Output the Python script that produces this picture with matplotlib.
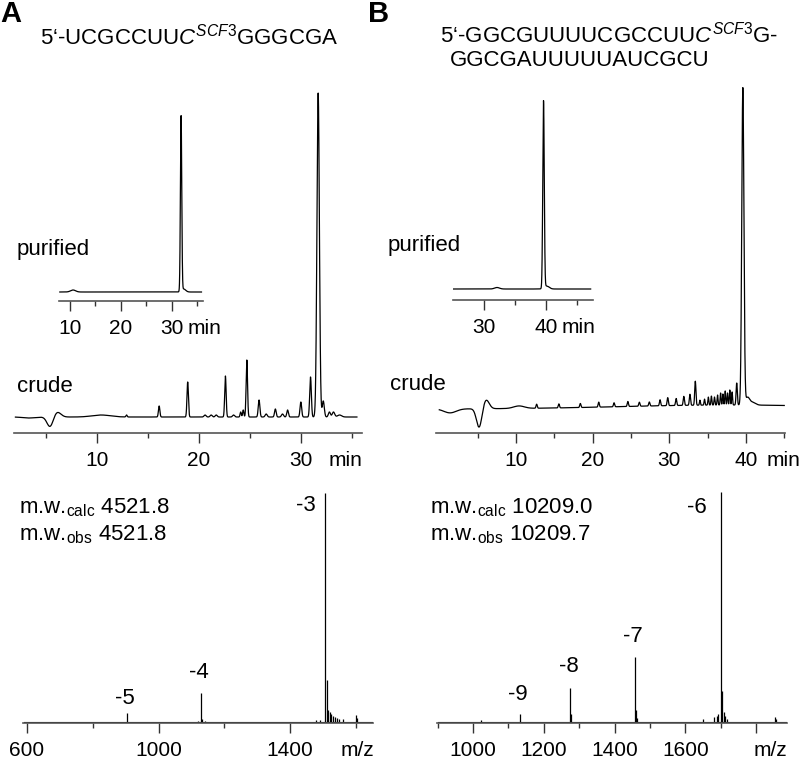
import numpy as np
import matplotlib
matplotlib.use("Agg")
import matplotlib.pyplot as plt
from matplotlib.ticker import FixedLocator

plt.rcParams["font.family"] = ["Liberation Sans", "DejaVu Sans"]
plt.rcParams["mathtext.fontset"] = "custom"
plt.rcParams["mathtext.rm"] = "Liberation Sans"
plt.rcParams["mathtext.it"] = "Liberation Sans:italic"
plt.rcParams["mathtext.bf"] = "Liberation Sans:bold"

W, H = 800, 760
FS = 16      # labels, sequences
TFS = 15     # tick labels

# ---- panel A, HPLC crude: retention time (min), height (a.u.), sigma (min)
a_crude_t = [3.3, 5.4, 6.1, 10.4, 12.9, 16.1, 18.9, 20.6, 21.2, 21.7, 22.6, 23.4,
             24.1, 24.35, 24.7, 25.9, 26.6, 27.5, 28.2, 28.7, 30.0, 30.95, 31.7,
             32.2, 32.8, 33.2, 33.8]
a_crude_h = [-1, -10, 5, 2, 2, 11, 35, 2, 2, 2, 41, 2,
             5, 7, 57, 17, 3, 8, 3, 7, 15, 40, 324,
             16, 5, 5, 2]
a_crude_w = [0.6, 0.3, 0.35, 0.9, 0.06, 0.07, 0.07, 0.1, 0.1, 0.1, 0.07, 0.1,
             0.06, 0.06, 0.07, 0.08, 0.1, 0.08, 0.1, 0.08, 0.08, 0.08, 0.12,
             0.1, 0.1, 0.12, 0.2]

# ---- panel A, HPLC purified
a_pur_t = [10.6, 31.8, 32.3]
a_pur_h = [2, 175, 3]
a_pur_w = [0.5, 0.13, 0.4]

# ---- panel B, HPLC crude (last entry: slow baseline drift)
b_crude_t = [1.4, 5.2, 6.1, 10.4, 12.7, 15.6, 18.4, 20.8, 22.8, 24.6, 26.1, 27.4,
             28.8, 29.8, 30.9, 31.9, 32.7, 33.4, 34.0, 34.6, 35.1, 35.5, 35.9,
             36.3, 36.7, 37.0, 37.3, 37.6, 37.9, 38.2, 38.8, 39.6, 40.2, 40.8, 38.0]
b_crude_h = [-4, -19, 9, 2.5, 4, 4, 4, 5, 4, 5, 4, 4,
             6, 8, 7, 9, 11, 24, 5, 6, 8, 9, 8,
             10, 12, 11, 14, 12, 15, 13, 22, 317, 7, 3, 4]
b_crude_w = [0.8, 0.35, 0.4, 0.7, 0.08, 0.08, 0.08, 0.08, 0.08, 0.08, 0.08, 0.08,
             0.08, 0.08, 0.08, 0.08, 0.08, 0.08, 0.06, 0.06, 0.06, 0.06, 0.06,
             0.06, 0.06, 0.06, 0.06, 0.06, 0.06, 0.06, 0.08, 0.14, 0.25, 0.4, 14]

# ---- panel B, HPLC purified
b_pur_t = [32.1, 39.6, 40.1]
b_pur_h = [1.5, 187, 3]
b_pur_w = [0.4, 0.12, 0.4]

# ---- ESI-MS stick spectra: m/z, intensity (a.u.)
a_ms_mz = [903.4, 1120, 1129.5, 1131.5, 1140, 1480, 1492, 1506.3, 1513.5, 1517,
           1521, 1526, 1531, 1536, 1542, 1550, 1560, 1600, 1604]
a_ms_int = [9, 1.5, 29, 3, 1.5, 2, 2, 229, 42, 12,
            10, 8, 6, 5, 4, 3, 3, 7, 4]
a_charge = ["-5", "-4", "-3"]
a_charge_mz = [903.4, 1129.5, 1506.3]
a_charge_int = [9, 29, 229]

b_ms_mz = [1022, 1133.4, 1275.1, 1278, 1457.4, 1460.5, 1464, 1650, 1680, 1688,
           1693, 1700.5, 1704, 1708, 1712, 1718, 1853, 1857]
b_ms_int = [2, 8, 34, 8, 65, 12, 4, 3, 5, 6,
            8, 230, 31, 10, 6, 3, 5, 3]
b_charge = ["-9", "-8", "-7", "-6"]
b_charge_mz = [1133.4, 1275.1, 1457.4, 1700.5]
b_charge_int = [8, 34, 65, 230]

mw_a = ("4521.8", "4521.8")
mw_b = ("10209.0", "10209.7")

seq_a = r"5‘-UCGCCUU$\mathit{C}^{\mathit{SCF3}}$GGGCGA"
seq_b1 = r"5‘-GGCGUUUUCGCCUU$\mathit{C}^{\mathit{SCF3}}$G-"
seq_b2 = "GGCGAUUUUUAUCGCU"

fig = plt.figure(figsize=(W / 100, H / 100), dpi=100)


def trace(t, centers, heights, widths):
    y = np.zeros_like(t)
    for c, h, w in zip(centers, heights, widths):
        y += h * np.exp(-0.5 * ((t - c) / w) ** 2)
    return y


def px_axes(left, right, axis_y, top_y, gap, xlim):
    ax = fig.add_axes([left / W, (H - axis_y) / H, (right - left) / W, (axis_y - top_y) / H])
    ax.set_xlim(*xlim)
    ax.set_ylim(-gap, axis_y - top_y - gap)
    ax.patch.set_visible(False)
    for s in ("top", "left", "right"):
        ax.spines[s].set_visible(False)
    ax.spines["bottom"].set_color("#555555")
    ax.spines["bottom"].set_linewidth(1.2)
    ax.yaxis.set_visible(False)
    ax.tick_params(axis="x", which="major", length=7, width=1.0, pad=6,
                   labelsize=TFS, color="#333333", direction="out")
    ax.tick_params(axis="x", which="minor", length=3.5, width=1.0, color="#333333",
                   direction="out")
    return ax


def set_ticks(ax, major, minor, unit, unit_x):
    ax.xaxis.set_major_locator(FixedLocator(major))
    ax.xaxis.set_minor_locator(FixedLocator(minor))
    ax.set_xticklabels([str(m) for m in major])
    ax.annotate(unit, xy=(unit_x, 0), xycoords=("data", "axes fraction"),
                xytext=(0, -13), textcoords="offset points", ha="center", va="top",
                fontsize=TFS)


def hplc(ax, t0, t1, centers, heights, widths):
    t = np.linspace(t0, t1, 6000)
    ax.plot(t, trace(t, centers, heights, widths), color="black", lw=0.9)


def ms(ax, mz, inten, x0, x1):
    ax.plot([x0, x1], [0, 0], color="black", lw=0.8)
    ax.vlines(mz, 0, inten, color="black", lw=0.9)


def ftext(x, y, s, **kw):
    kw.setdefault("fontsize", FS)
    fig.text(x / W, 1 - y / H, s, **kw)


# ---------------- panel A
ax = px_axes(14, 362, 433, 85, 16, (1.86, 36.0))
hplc(ax, 2.0, 35.5, a_crude_t, a_crude_h, a_crude_w)
set_ticks(ax, [10, 20, 30], [5, 15, 25, 35], "min", 34.4)

ax = px_axes(59, 203, 300.7, 110, 8.7, (7.84, 36.1))
hplc(ax, 8.0, 35.8, a_pur_t, a_pur_h, a_pur_w)
set_ticks(ax, [10, 20, 30], [15, 25, 35], "min", 36.3)

ax = px_axes(23, 373, 723, 485, 1, (587.8, 1652.5))
ms(ax, a_ms_mz, a_ms_int, 590, 1650)
set_ticks(ax, [600, 1000, 1400], [800, 1200, 1600], "m/z", 1604)
a_off = [(-2, 14), (-2, 21), (-19, -12)]
for lab, x, y, off in zip(a_charge, a_charge_mz, a_charge_int, a_off):
    ax.annotate(lab, xy=(x, y), xytext=off, textcoords="offset pixels",
                ha="center", va="center", fontsize=FS)

ftext(0, 14, "A", fontsize=21, fontweight="bold", va="center")
ftext(40, 44, seq_a, va="baseline")
ftext(17, 250, "purified", va="center")
ftext(17, 386, "crude", va="center")
ftext(19, 508, r"m.w.$_{\mathrm{calc}}$ " + mw_a[0], va="center")
ftext(19, 535, r"m.w.$_{\mathrm{obs}}$ " + mw_a[1], va="center")

# ---------------- panel B
ax = px_axes(436, 785, 433, 80, 24, (-0.43, 45.1))
hplc(ax, 0.0, 45.0, b_crude_t, b_crude_h, b_crude_w)
set_ticks(ax, [10, 20, 30, 40], [5, 15, 25, 35, 45], "min", 44.9)

ax = px_axes(453, 593, 300, 95, 11, (25.0, 47.58))
hplc(ax, 25.0, 47.2, b_pur_t, b_pur_h, b_pur_w)
set_ticks(ax, [30, 40], [35, 45], "min", 45.3)

ax = px_axes(437, 787, 723, 485, 1, (898, 1887))
ms(ax, b_ms_mz, b_ms_int, 900, 1885)
set_ticks(ax, [1000, 1200, 1400, 1600, 1800], [900, 1100, 1300, 1500, 1700], "m/z", 1839)
ax.set_xticklabels(["1000", "1200", "1400", "1600", ""])
b_off = [(-2, 20), (-2, 21), (-2, 21), (-24, -15)]
for lab, x, y, off in zip(b_charge, b_charge_mz, b_charge_int, b_off):
    ax.annotate(lab, xy=(x, y), xytext=off, textcoords="offset pixels",
                ha="center", va="center", fontsize=FS)

ftext(368, 14, "B", fontsize=21, fontweight="bold", va="center")
ftext(440, 43, seq_b1, va="baseline")
ftext(450, 66, seq_b2, va="baseline")
ftext(388, 245, "purified", va="center")
ftext(390, 385, "crude", va="center")
ftext(430, 508, r"m.w.$_{\mathrm{calc}}$ " + mw_b[0], va="center")
ftext(430, 535, r"m.w.$_{\mathrm{obs}}$ " + mw_b[1], va="center")

fig.savefig("out.png", dpi=100)
